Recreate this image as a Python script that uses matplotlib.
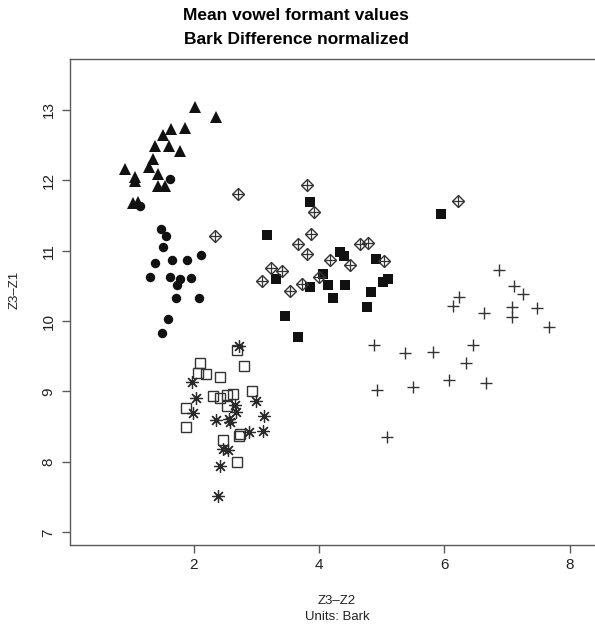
#! /usr/bin/env python

import matplotlib
matplotlib.use('Agg')
import matplotlib.pyplot as plt

plt.rcParams['font.family'] = ['Liberation Sans', 'DejaVu Sans']

# mean (Z3-Z2, Z3-Z1) per speaker, one group per vowel
tri_x = [2.01, 2.36, 1.64, 1.86, 1.50, 1.38, 1.60, 1.78, 1.35, 1.28, 0.90,
         1.06, 1.06, 1.43, 1.43, 1.53, 1.02, 1.11]
tri_y = [13.04, 12.90, 12.72, 12.74, 12.64, 12.49, 12.48, 12.41, 12.30, 12.18,
         12.16, 12.04, 11.99, 12.09, 11.91, 11.92, 11.67, 11.69]

circ_x = [1.61, 1.14, 1.48, 1.55, 1.51, 2.12, 1.38, 1.65, 1.89, 1.30, 1.62,
          1.77, 1.73, 1.96, 1.72, 2.08, 1.58, 1.49]
circ_y = [12.01, 11.64, 11.31, 11.20, 11.05, 10.94, 10.82, 10.86, 10.86, 10.63,
          10.63, 10.59, 10.51, 10.61, 10.32, 10.33, 10.03, 9.83]

fsq_x = [3.86, 3.17, 4.34, 4.39, 4.91, 3.31, 4.06, 3.85, 4.14, 4.42, 4.22,
         4.83, 5.02, 5.10, 4.77, 3.45, 3.67, 5.94]
fsq_y = [11.69, 11.22, 10.98, 10.93, 10.88, 10.60, 10.67, 10.49, 10.51, 10.51,
         10.33, 10.41, 10.55, 10.60, 10.20, 10.07, 9.78, 11.52]

osq_x = [2.69, 2.09, 2.06, 2.19, 2.80, 2.42, 2.92, 2.31, 2.41, 2.52, 2.63,
         2.53, 1.87, 1.87, 2.47, 2.72, 2.74, 2.69]
osq_y = [9.59, 9.40, 9.26, 9.25, 9.36, 9.20, 9.01, 8.94, 8.90, 8.95, 8.96,
         8.79, 8.77, 8.50, 8.31, 8.37, 8.39, 8.00]

ast_x = [2.72, 1.97, 2.04, 1.98, 2.65, 2.67, 2.99, 3.12, 2.36, 2.56, 2.58,
         2.88, 3.11, 2.47, 2.54, 2.42, 2.38]
ast_y = [9.64, 9.14, 8.91, 8.70, 8.81, 8.71, 8.86, 8.65, 8.59, 8.61, 8.57,
         8.43, 8.44, 8.19, 8.17, 7.94, 7.51]

dia_x = [2.71, 2.33, 3.80, 3.91, 3.87, 3.67, 3.80, 4.18, 4.49, 4.66, 4.78,
         5.03, 3.23, 3.41, 3.08, 3.72, 3.54, 4.00, 6.22]
dia_y = [11.80, 11.20, 11.93, 11.55, 11.23, 11.09, 10.95, 10.87, 10.80, 11.10,
         11.11, 10.85, 10.75, 10.71, 10.57, 10.53, 10.42, 10.63, 11.70]

plus_x = [6.87, 7.11, 7.25, 6.23, 6.14, 6.64, 7.08, 7.08, 7.48, 7.67, 4.88,
          5.37, 5.82, 6.45, 6.35, 6.07, 6.66, 4.93, 5.50, 5.08]
plus_y = [10.73, 10.50, 10.38, 10.34, 10.22, 10.12, 10.20, 10.05, 10.19, 9.92,
          9.66, 9.54, 9.56, 9.66, 9.41, 9.16, 9.12, 9.02, 9.06, 8.35]

x_ticks = [2, 4, 6, 8]
y_ticks = [7, 8, 9, 10, 11, 12, 13]

W, H = 595, 627
fig = plt.figure(figsize=(W / 100, H / 100), dpi=100)
ax = fig.add_axes([70 / W, (H - 545) / H, (604 - 70) / W, (545 - 59) / H])

ink = '#111111'
ax.plot(tri_x, tri_y, '^', color=ink, ms=8.5, mew=0, ls='none')
ax.plot(circ_x, circ_y, 'o', color=ink, ms=6.8, mew=0, ls='none')
ax.plot(fsq_x, fsq_y, 's', color=ink, ms=6.5, mew=0, ls='none')
ax.plot(osq_x, osq_y, 's', mfc='none', mec='#333333', ms=7.0, mew=1.0, ls='none')
ax.plot(ast_x, ast_y, ls='none', marker=(8, 2, 0), mec='#2a2a2a', ms=9.0, mew=0.9)
ax.plot(dia_x, dia_y, 'D', mfc='none', mec='#333333', ms=6.2, mew=1.0, ls='none')
ax.plot(dia_x, dia_y, '+', mec='#333333', ms=8.2, mew=0.9, ls='none')
ax.plot(plus_x, plus_y, '+', mec='#333333', ms=9.0, mew=1.0, ls='none')

ax.set_xlim(0.02, 8.55)
ax.set_ylim(6.82, 13.72)
ax.set_xticks(x_ticks)
ax.set_yticks(y_ticks)

for side in ['left', 'bottom', 'top', 'right']:
    ax.spines[side].set_color('#5a5a5a')
    ax.spines[side].set_linewidth(1.0)
ax.tick_params(direction='out', length=5.5, width=1.0, color='#5a5a5a',
               labelsize=11, labelcolor='#222222')
ax.tick_params(axis='x', pad=4)
ax.tick_params(axis='y', pad=5)
for lab in ax.get_yticklabels():
    lab.set_rotation(90)
    lab.set_va('center')

fig.text(296 / W, 1 - 15 / H, 'Mean vowel formant values', ha='center',
         va='center', fontsize=12.5, fontweight='bold')
fig.text(296 / W, 1 - 40 / H, 'Bark Difference normalized', ha='center',
         va='center', fontsize=12.5, fontweight='bold')
fig.text(337 / W, 1 - 601 / H, 'Z3\u2013Z2', ha='center', va='center',
         fontsize=9.5, color='#222222')
fig.text(337 / W, 1 - 617 / H, 'Units: Bark', ha='center', va='center',
         fontsize=9.5, color='#222222')
fig.text(15 / W, 1 - 290 / H, 'Z3\u2013Z1', ha='center', va='center',
         rotation=90, fontsize=9.5, color='#222222')

fig.savefig('out.png', dpi=100)
